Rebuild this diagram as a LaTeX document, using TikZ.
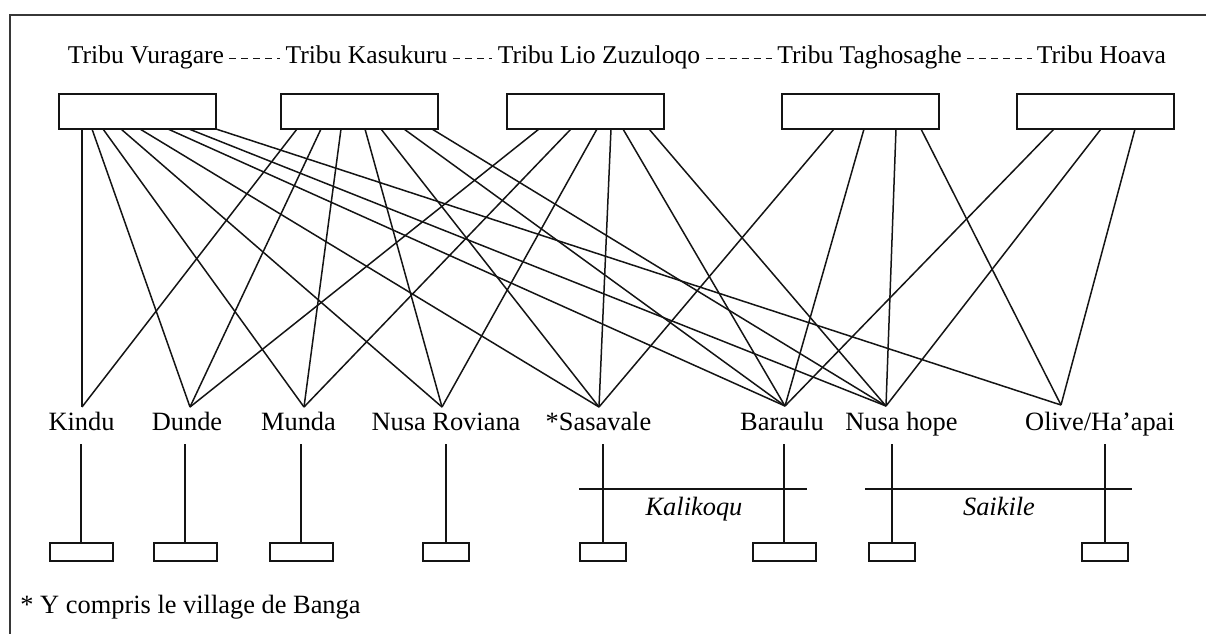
\documentclass[tikz,border=0pt]{standalone}
\usepackage{fontspec}
\setmainfont{Liberation Serif}
\usepackage{tikz}
\usetikzlibrary{calc}
\definecolor{figline}{RGB}{20,20,20}
\tikzset{
  lnk/.style  ={draw=figline, line width=0.75pt},
  frm/.style  ={draw=figline!85, line width=0.6pt},
  tbox/.style ={draw=figline, line width=1pt, minimum width=78.5pt, minimum height=17.5pt, inner sep=0pt, outer sep=0pt},
  vboxw/.style={draw=figline, line width=1pt, minimum width=31.5pt, minimum height=9pt, inner sep=0pt, outer sep=0pt},
  vboxn/.style={draw=figline, line width=1pt, minimum width=23pt, minimum height=9pt, inner sep=0pt, outer sep=0pt},
  tlab/.style ={font=\fontsize{12.8}{15}\selectfont, inner sep=2.5pt, anchor=base},
  vlab/.style ={font=\fontsize{13.2}{15}\selectfont, inner sep=1pt, anchor=base},
  glab/.style ={font=\fontsize{13.2}{15}\selectfont\itshape, inner sep=1pt, anchor=base},
  dsh/.style  ={draw=figline, line width=0.6pt, dash pattern=on 3.5pt off 2.5pt},
}
\begin{document}
\begin{tikzpicture}[x=0.5pt,y=-0.5pt]
  \useasboundingbox (0,0) rectangle (1206,634);
  \draw[frm] (1206,15) -- (10,15) -- (10,634);
  \node[tlab] (t1) at (146,63) {Tribu Vuragare};
  \node[tlab] (t2) at (366.5,63) {Tribu Kasukuru};
  \node[tlab] (t3) at (599,63) {Tribu Lio Zuzuloqo};
  \node[tlab] (t4) at (869.5,63) {Tribu Taghosaghe};
  \node[tlab] (t5) at (1101.5,63) {Tribu Hoava};
  \draw[dsh] (t1.mid east) -- (t2.mid west);
  \draw[dsh] (t2.mid east) -- (t3.mid west);
  \draw[dsh] (t3.mid east) -- (t4.mid west);
  \draw[dsh] (t4.mid east) -- (t5.mid west);
  \node[tbox] (b1) at (137.5,111.5) {};
  \node[tbox] (b2) at (359.5,111.5) {};
  \node[tbox] (b3) at (585.5,111.5) {};
  \node[tbox] (b4) at (860.5,111.5) {};
  \node[tbox] (b5) at (1095.5,111.5) {};
  \coordinate (kindu-top) at (82,407);
  \coordinate (dunde-top) at (190,407);
  \coordinate (munda-top) at (304,407);
  \coordinate (roviana-top) at (442,407);
  \coordinate (sasavale-top) at (599,407);
  \coordinate (baraulu-top) at (785,406);
  \coordinate (nusahope-top) at (886,406);
  \coordinate (olive-top) at (1061,405);
  \node[vlab] (kindu) at (81.5,430) {Kindu};
  \node[vlab] (dunde) at (187,430) {Dunde};
  \node[vlab] (munda) at (298.5,430) {Munda};
  \node[vlab] (roviana) at (446,430) {Nusa Roviana};
  \node[vlab] (sasavale) at (598.5,430) {*Sasavale};
  \node[vlab] (baraulu) at (782,430) {Baraulu};
  \node[vlab] (nusahope) at (901.5,430) {Nusa hope};
  \node[vlab] (olive) at (1100,430) {Olive/Ha’apai};
  \draw[lnk] ($(b1.south west)+(23,0)$) -- (kindu-top);
  \draw[lnk] ($(b1.south west)+(33,0)$) -- (dunde-top);
  \draw[lnk] ($(b1.south west)+(44,0)$) -- (munda-top);
  \draw[lnk] ($(b1.south west)+(62,0)$) -- (roviana-top);
  \draw[lnk] ($(b1.south west)+(81,0)$) -- (sasavale-top);
  \draw[lnk] ($(b1.south west)+(109,0)$) -- (baraulu-top);
  \draw[lnk] ($(b1.south west)+(130,0)$) -- (nusahope-top);
  \draw[lnk] (b1.south east) -- (olive-top);
  \draw[lnk] ($(b2.south west)+(16,0)$) -- (kindu-top);
  \draw[lnk] ($(b2.south west)+(40,0)$) -- (dunde-top);
  \draw[lnk] ($(b2.south west)+(60,0)$) -- (munda-top);
  \draw[lnk] ($(b2.south west)+(84,0)$) -- (roviana-top);
  \draw[lnk] ($(b2.south west)+(100,0)$) -- (sasavale-top);
  \draw[lnk] ($(b2.south west)+(123,0)$) -- (baraulu-top);
  \draw[lnk] ($(b2.south west)+(151,0)$) -- (nusahope-top);
  \draw[lnk] ($(b3.south west)+(32,0)$) -- (dunde-top);
  \draw[lnk] ($(b3.south west)+(64,0)$) -- (munda-top);
  \draw[lnk] ($(b3.south west)+(90,0)$) -- (roviana-top);
  \draw[lnk] ($(b3.south west)+(104,0)$) -- (sasavale-top);
  \draw[lnk] ($(b3.south west)+(116,0)$) -- (baraulu-top);
  \draw[lnk] ($(b3.south west)+(142,0)$) -- (nusahope-top);
  \draw[lnk] ($(b4.south west)+(52,0)$) -- (sasavale-top);
  \draw[lnk] ($(b4.south west)+(82,0)$) -- (baraulu-top);
  \draw[lnk] ($(b4.south west)+(114,0)$) -- (nusahope-top);
  \draw[lnk] ($(b4.south west)+(139,0)$) -- (olive-top);
  \draw[lnk] ($(b5.south west)+(37,0)$) -- (baraulu-top);
  \draw[lnk] ($(b5.south west)+(84,0)$) -- (nusahope-top);
  \draw[lnk] ($(b5.south west)+(118,0)$) -- (olive-top);
  \coordinate (stemtop) at (0,444);
  \node[vboxw] (kindu-box) at (81,552) {};
  \node[vboxw] (dunde-box) at (185,552) {};
  \node[vboxw] (munda-box) at (301,552) {};
  \node[vboxn] (roviana-box) at (446,552) {};
  \node[vboxn] (sasavale-box) at (603,552) {};
  \node[vboxw] (baraulu-box) at (784,552) {};
  \node[vboxn] (nusahope-box) at (892,552) {};
  \node[vboxn] (olive-box) at (1105,552) {};
  \draw[lnk] (kindu-box.north) -- (kindu-box.north |- stemtop);
  \draw[lnk] (dunde-box.north) -- (dunde-box.north |- stemtop);
  \draw[lnk] (munda-box.north) -- (munda-box.north |- stemtop);
  \draw[lnk] (roviana-box.north) -- (roviana-box.north |- stemtop);
  \draw[lnk] (sasavale-box.north) -- (sasavale-box.north |- stemtop);
  \draw[lnk] (baraulu-box.north) -- (baraulu-box.north |- stemtop);
  \draw[lnk] (nusahope-box.north) -- (nusahope-box.north |- stemtop);
  \draw[lnk] (olive-box.north) -- (olive-box.north |- stemtop);
  \draw[lnk] (579,489) -- (807,489);
  \draw[lnk] (865,489) -- (1132,489);
  \node[glab] (kalikoqu) at (694,515) {Kalikoqu};
  \node[glab] (saikile) at (999,515) {Saikile};
  \node[vlab,anchor=base west] (note) at (18,613) {* Y compris le village de Banga};
\end{tikzpicture}
\end{document}
